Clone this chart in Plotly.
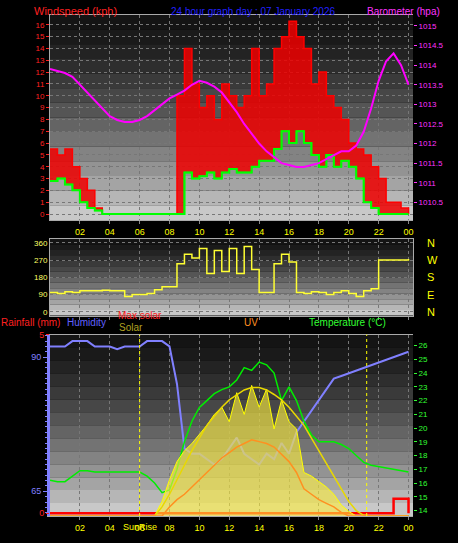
import plotly.graph_objects as go

hours = [i * 0.5 for i in range(49)]

gust = [5.5, 5, 5.5, 4, 3, 2, 0.5, 0, 0, 0, 0, 0, 0, 0, 0, 0, 0, 10, 14, 11, 9, 10, 8, 11, 10, 9, 10, 14, 10, 11,
        14, 15, 16.3, 15, 14, 11, 12, 10, 9, 8, 6, 5.5, 5, 4, 3, 1, 1, 0.5, 0]
wind_avg = [2.8, 3, 2.5, 2, 1, 0.5, 0.3, 0, 0, 0, 0, 0, 0, 0, 0, 0, 0, 0, 3.5, 3, 3.2, 3.5, 3, 3.5, 3.8, 3.5, 3.5, 4, 4.5, 4.5,
            5.5, 7, 6, 7, 6, 5, 4, 5, 4, 4.5, 4, 3, 1, 0.5, 0, 0, 0, 0, 0]
baro = [1013.9, 1013.85, 1013.8, 1013.7, 1013.5, 1013.3, 1013.1, 1012.9, 1012.7, 1012.6, 1012.55, 1012.55, 1012.6,
        1012.7, 1012.85, 1013.0, 1013.15, 1013.25, 1013.35, 1013.5, 1013.6, 1013.55, 1013.45, 1013.3, 1013.05,
        1012.8, 1012.5, 1012.25, 1012.0, 1011.8, 1011.65, 1011.5, 1011.45, 1011.4, 1011.4, 1011.45, 1011.5,
        1011.6, 1011.7, 1011.8, 1011.8, 1011.95, 1012.3, 1012.9, 1013.6, 1014.1, 1014.3, 1014.0, 1013.5]
baro_ticks = [1010.5, 1011, 1011.5, 1012, 1012.5, 1013, 1013.5, 1014, 1014.5, 1015]
wind_dir = [100, 95, 105, 100, 110, 110, 110, 112, 110, 110, 80, 90, 90, 95, 115, 130, 130, 250, 300, 280, 330, 200,
            320, 210, 330, 200, 340, 220, 100, 100, 250, 300, 260, 100, 95, 105, 100, 90, 100, 110, 95, 80, 110, 120,
            270, 270, 270, 270, 275]
humidity = [92, 92, 92, 93, 93, 93, 92, 92, 92, 91.5, 92, 92, 92, 93, 93, 93, 92, 85, 73, 72, 72, 71, 70, 71, 73, 75,
            72, 71, 70, 72, 71, 74, 72, 76, 78, 80, 82, 84, 86, 86.5, 87, 87.5, 88, 88.5, 89, 89.5, 90, 90.5, 91]
temperature = [16.2, 16.1, 16.1, 16.5, 16.9, 16.9, 16.8, 16.8, 16.8, 16.8, 16.8, 16.8, 16.8, 16.5, 16, 15.3, 15.5,
               17, 19, 20.5, 21.5, 22, 22.5, 22.8, 23, 23.5, 24.4, 24.2, 24.8, 24.6, 24, 22, 23, 22, 20.5, 19.5, 19,
               19, 19, 18.8, 18.5, 18, 17.5, 17.3, 17.2, 17.1, 17, 16.9, 16.8]
solar = [0] * 14 + [0, 80, 200, 300, 360, 400, 450, 500, 560, 600, 520, 680, 560, 720, 600, 700, 480, 640, 520, 480,
                    240, 220, 190, 160, 120, 60, 25, 0, 0, 0, 0, 0, 0, 0, 0]
max_solar = [0] * 14 + [0, 50, 120, 200, 280, 360, 430, 500, 550, 600, 640, 670, 695, 708, 708, 695, 670, 640, 600,
                        550, 500, 430, 360, 290, 215, 145, 80, 30, 4, 0, 0, 0, 0, 0, 0]
uv = [0] * 15 + [0, 50, 90, 120, 160, 200, 240, 280, 320, 350, 380, 400, 420, 410, 400, 380, 340, 300, 240, 150, 120,
                 90, 70, 50, 20, 0, 0, 0, 0, 0, 0, 0, 0, 0]
rain = [0] * 46 + [0.4, 0.4, 0]

fig = go.Figure()

fig.add_trace(go.Scatter(x=hours, y=wind_avg, line=dict(color="#00ff00", width=1.5, shape="hv"), xaxis="x", yaxis="y"))
fig.add_trace(go.Scatter(x=hours, y=gust, line=dict(color="#ff0000", width=1.5, shape="hv"), fill="tonexty",
                         fillcolor="rgba(240,0,0,0.85)", xaxis="x", yaxis="y"))
fig.add_trace(go.Scatter(x=hours, y=wind_avg, line=dict(color="#00ff00", width=2, shape="hv"), xaxis="x", yaxis="y"))
fig.add_trace(go.Scatter(x=hours, y=baro, line=dict(color="#ff00ff", width=2), xaxis="x", yaxis="y2"))

fig.add_trace(go.Scatter(x=hours, y=wind_dir, line=dict(color="#ffff33", width=1.5, shape="hv"), xaxis="x2", yaxis="y3"))

fig.add_trace(go.Scatter(x=hours, y=solar, line=dict(color="#ffff00", width=1), fill="tozeroy",
                         fillcolor="rgba(255,240,60,0.6)", xaxis="x3", yaxis="y7"))
fig.add_trace(go.Scatter(x=hours, y=max_solar, line=dict(color="#e8d800", width=1.5), xaxis="x3", yaxis="y7"))
fig.add_trace(go.Scatter(x=hours, y=uv, line=dict(color="#ff9020", width=1.5), xaxis="x3", yaxis="y7"))
fig.add_trace(go.Scatter(x=hours, y=humidity, line=dict(color="#8080ff", width=2), xaxis="x3", yaxis="y4"))
fig.add_trace(go.Scatter(x=hours, y=temperature, line=dict(color="#00ee00", width=1.5), xaxis="x3", yaxis="y6"))
fig.add_trace(go.Scatter(x=hours, y=rain, line=dict(color="#ff0000", width=2.5, shape="hv"), xaxis="x3", yaxis="y5"))

tick_vals = list(range(2, 25, 2))
tick_text = ["%02d" % (h % 24) for h in tick_vals]
xcommon = dict(range=[0, 24.3], tickvals=tick_vals, ticktext=tick_text, showgrid=True, gridcolor="#777",
               griddash="dot", tickfont=dict(color="#ffff00", size=9), ticks="outside", ticklen=3,
               tickcolor="#888", showline=True, linecolor="#aaa", mirror=True, zeroline=False)
fig.update_layout(
    xaxis=dict(xcommon, anchor="y"),
    xaxis2=dict(xcommon, anchor="y3", showticklabels=False),
    xaxis3=dict(xcommon, anchor="y4"),
    yaxis=dict(domain=[0.591, 1], range=[-0.5, 16.83], dtick=1, tickfont=dict(color="#ff2020", size=8),
               showgrid=True, gridcolor="#777", griddash="dot", zeroline=False, showline=True, linecolor="#aaa",
               ticks="outside", tickcolor="#ff2020", ticklen=3),
    yaxis2=dict(overlaying="y", side="right", range=[1010.05, 1015.28], tickvals=baro_ticks,
                ticktext=["%g" % v for v in baro_ticks], showgrid=False,
                tickfont=dict(color="#ff33ff", size=8), ticks="outside", tickcolor="#ff33ff", ticklen=3, zeroline=False),
    yaxis3=dict(domain=[0.40, 0.553], anchor="x2", range=[-20, 380], tickvals=[0, 90, 180, 270, 360],
                tickfont=dict(color="#ffff66", size=8), showgrid=True, gridcolor="#777", griddash="dot",
                zeroline=False, showline=True, linecolor="#aaa", mirror=True),
    yaxis4=dict(domain=[0, 0.362], anchor="x3", range=[60.4, 94.2], tickvals=[65, 90],
                tickfont=dict(color="#8080ff", size=9), showgrid=False, zeroline=False, showline=True,
                linecolor="#8080ff", linewidth=3, ticks="outside", tickcolor="#8080ff",
                minor=dict(dtick=1, ticks="outside", ticklen=2, tickcolor="#8080ff"), ticklen=4),
    yaxis5=dict(overlaying="y4", range=[-0.08, 5.0], tickvals=[0, 5], showgrid=False, zeroline=False,
                tickfont=dict(color="#ff2020", size=9), ticks="outside", tickcolor="#ff2020", ticklen=3),
    yaxis6=dict(overlaying="y4", side="right", range=[13.6, 26.8], dtick=1, showgrid=False, zeroline=False,
                tickfont=dict(color="#33ff33", size=8), ticks="outside", tickcolor="#33ff33", ticklen=3),
    yaxis7=dict(overlaying="y4", range=[0, 1000], visible=False),
    width=458, height=543, margin=dict(l=50, r=45, t=10, b=25),
    paper_bgcolor="black", plot_bgcolor="black", showlegend=False,
    font=dict(family="Liberation Sans", size=10),
)

# grey gradient backgrounds
shapes = []
for xr, yr in [("x domain", "y domain"), ("x2 domain", "y3 domain"), ("x3 domain", "y4 domain")]:
    n = 14
    for i in range(n):
        g = int(20 + (200 - 20) * (i / (n - 1)) ** 1.3)
        shapes.append(dict(type="rect", xref=xr, yref=yr, x0=0, x1=1, y0=1 - (i + 1) / n, y1=1 - i / n,
                           fillcolor="rgb(%d,%d,%d)" % (g, g, g), line=dict(width=0), layer="below"))
for xv in [6.0, 21.2]:
    shapes.append(dict(type="line", xref="x3", yref="y4 domain", x0=xv, x1=xv, y0=0, y1=1,
                       line=dict(color="#ffff00", width=1, dash="dot")))
fig.update_layout(shapes=shapes)


def py(px):
    return (518 - px) / 508


def pxx(px):
    return (px - 50) / 363


ann = [
    ("Windspeed (kph)", 33, 6, "#ff2020", 11),
    ("24 hour graph day : 07 January 2026", 170, 6, "#2020ff", 10),
    ("Barometer (hpa)", 366, 6, "#ff33ff", 10),
    ("Rainfall (mm)", 0, 322, "#ff2020", 10),
    ("Humidity", 66, 322, "#6060ff", 10),
    ("Max solar", 117, 315, "#ff2020", 10),
    ("Solar", 118, 327, "#b0a020", 10),
    ("UV", 243, 322, "#ff9020", 10),
    ("Temperature (°C)", 308, 322, "#33ff33", 10),
]
for text, x, y, c, s in ann:
    fig.add_annotation(text=text, x=pxx(x), y=py(y), xref="paper", yref="paper", xanchor="left", yanchor="middle",
                       showarrow=False, font=dict(color=c, size=s), borderpad=0)
for lab, v in zip(["N", "W", "S", "E", "N"], [360, 270, 180, 90, 0]):
    fig.add_annotation(text=lab, x=1.0, y=v, xref="paper", yref="y3", xanchor="left", showarrow=False,
                       xshift=12, font=dict(color="#ffff00", size=11))
fig.add_annotation(text="SunRise", x=6.0, y=0, xref="x3", yref="paper", yanchor="top", showarrow=False,
                   yshift=-4, font=dict(color="#ffff00", size=9))

fig.write_html("out.html", config={"displayModeBar": False},
               post_script="document.body.style.margin='0';document.body.style.background='black';")
